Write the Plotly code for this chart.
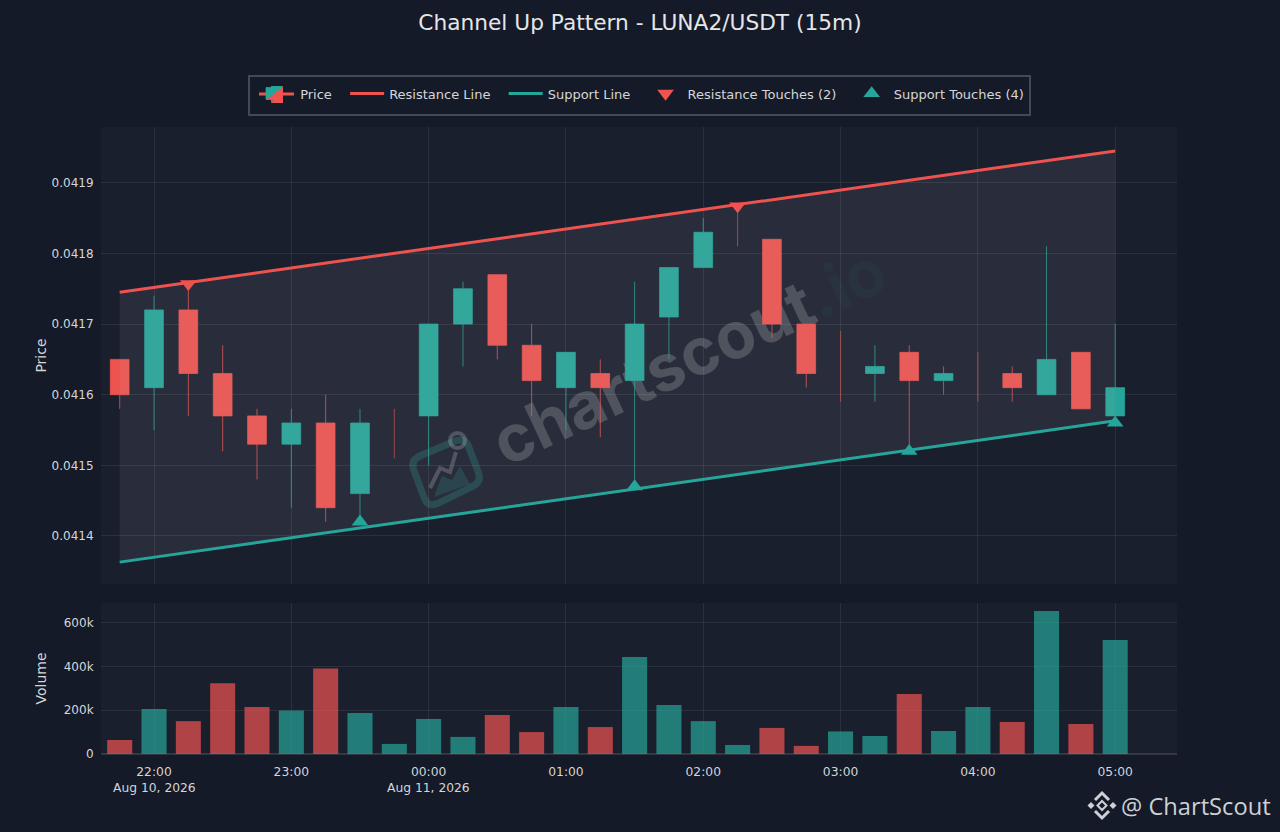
import pandas as pd
import plotly.graph_objects as go
from plotly.subplots import make_subplots

# Bougies 15m, du 10 août 21:45 au 11 août 05:00
# open/close à None : bougie sans corps, seule la mèche est visible
times = pd.date_range("2026-08-10 21:45", "2026-08-11 05:00", freq="15min")
opens = [0.04165, 0.04161, 0.04172, 0.04163, 0.04157, 0.04153, 0.04156, 0.04146, None, 0.04157,
         0.04170, 0.04177, 0.04167, 0.04161, 0.04163, 0.04162, 0.04171, 0.04178, None, 0.04182,
         0.04170, None, 0.04163, 0.04166, 0.04162, None, 0.04163, 0.04160, 0.04166, 0.04157]
highs = [0.04165, 0.04174, 0.04175, 0.04167, 0.04158, 0.04158, 0.04160, 0.04158, 0.04158, 0.04170,
         0.04176, 0.04177, 0.04170, 0.04166, 0.04165, 0.04176, 0.04178, 0.04185, 0.04187, 0.04182,
         0.04170, 0.04169, 0.04167, 0.04167, 0.04164, 0.04166, 0.04164, 0.04181, 0.04166, 0.04170]
lows = [0.04158, 0.04155, 0.04157, 0.04152, 0.04148, 0.04144, 0.04142, 0.04142, 0.04151, 0.04150,
        0.04164, 0.04165, 0.04157, 0.04155, 0.04154, 0.04147, 0.04165, 0.04178, 0.04181, 0.04168,
        0.04161, 0.04159, 0.04159, 0.04152, 0.04160, 0.04159, 0.04159, 0.04160, 0.04158, 0.04156]
closes = [0.04160, 0.04172, 0.04163, 0.04157, 0.04153, 0.04156, 0.04144, 0.04156, None, 0.04170,
          0.04175, 0.04167, 0.04162, 0.04166, 0.04161, 0.04170, 0.04178, 0.04183, None, 0.04170,
          0.04163, None, 0.04164, 0.04162, 0.04163, None, 0.04161, 0.04165, 0.04158, 0.04161]
volumes = [64000, 205000, 150000, 323000, 215000, 198000, 390000, 187000, 46000, 160000,
           78000, 178000, 100000, 215000, 123000, 443000, 224000, 150000, 41000, 119000,
           37000, 103000, 82000, 274000, 105000, 215000, 146000, 653000, 137000, 520000]

# Droites du canal
line_times = ["2026-08-10 21:45", "2026-08-11 05:00"]
resistance = [0.041745, 0.041945]
support = [0.041363, 0.041563]

# Points de contact
res_times = ["2026-08-10 22:15", "2026-08-11 02:15"]
res_prices = [0.041757, 0.041867]
sup_times = ["2026-08-10 23:30", "2026-08-11 01:30", "2026-08-11 03:30", "2026-08-11 05:00"]
sup_prices = [0.04142, 0.04147, 0.04152, 0.04156]

# Graduations de l'axe du temps
hour_ticks = ["2026-08-10 22:00", "2026-08-10 23:00", "2026-08-11 00:00", "2026-08-11 01:00",
              "2026-08-11 02:00", "2026-08-11 03:00", "2026-08-11 04:00", "2026-08-11 05:00"]
hour_labels = ["22:00", "23:00", "00:00", "01:00", "02:00", "03:00", "04:00", "05:00"]

RED = "#ef5350"
GREEN = "#26a69a"
BG = "#141a27"
PLOT_BG = "#1a1f2e"
GRID = "rgba(255,255,255,0.08)"
TEXT = "#d4d6da"
FONT = "DejaVu Sans"


# pixels de la page -> coordonnées paper
def px(x):
    return (x - 101) / 1076


def py(y):
    return (754 - y) / 627


def path(points, close=True):
    d = "M " + " L ".join(f"{px(x):.5f},{py(y):.5f}" for x, y in points)
    return d + (" Z" if close else "")


def rounded(points, t=0.2):
    # polygone aux coins arrondis
    d = ""
    n = len(points)
    for i in range(n):
        x0, y0 = points[i - 1]
        x1, y1 = points[i]
        x2, y2 = points[(i + 1) % n]
        a = (x1 + (x0 - x1) * t, y1 + (y0 - y1) * t)
        b = (x1 + (x2 - x1) * t, y1 + (y2 - y1) * t)
        d += "M " if i == 0 else "L "
        d += f"{px(a[0]):.5f},{py(a[1]):.5f} Q {px(x1):.5f},{py(y1):.5f} {px(b[0]):.5f},{py(b[1]):.5f} "
    return d + "Z"


fig = make_subplots(rows=2, cols=1, shared_xaxes=True)

fig.add_trace(go.Candlestick(
    x=times, open=opens, high=highs, low=lows, close=closes, name="\u00a0Price\u00a0\u00a0",
    increasing=dict(line=dict(color="rgba(38,166,154,0.75)", width=1), fillcolor=GREEN),
    decreasing=dict(line=dict(color="rgba(239,83,80,0.75)", width=1), fillcolor=RED),
), row=1, col=1)

# Mèches seules des bougies sans corps
wick_x = []
wick_y = []
for t, o, h, l in zip(times, opens, highs, lows):
    if o is None:
        wick_x += [t, t, None]
        wick_y += [l, h, None]
fig.add_trace(go.Scatter(
    x=wick_x, y=wick_y, mode="lines", showlegend=False,
    line=dict(color="rgba(239,83,80,0.6)", width=1),
), row=1, col=1)

# Zone du canal
fig.add_trace(go.Scatter(
    x=line_times + line_times[::-1], y=resistance + support[::-1], mode="none", showlegend=False,
    fill="toself", fillcolor="rgba(180,180,180,0.1)",
), row=1, col=1)

fig.add_trace(go.Scatter(
    x=line_times, y=resistance, mode="lines", name="Resistance Line\u00a0\u00a0",
    line=dict(color=RED, width=3),
), row=1, col=1)

fig.add_trace(go.Scatter(
    x=line_times, y=support, mode="lines", name="Support Line\u00a0\u00a0",
    line=dict(color=GREEN, width=3),
), row=1, col=1)

fig.add_trace(go.Scatter(
    x=res_times, y=res_prices, mode="markers", name="Resistance Touches (2)\u00a0\u00a0",
    marker=dict(symbol="triangle-down", size=14.5, color=RED),
), row=1, col=1)

fig.add_trace(go.Scatter(
    x=sup_times, y=sup_prices, mode="markers", name="Support Touches (4)",
    marker=dict(symbol="triangle-up", size=14.5, color=GREEN),
), row=1, col=1)

# None (sans corps) compte comme vert, comme sur le volume d'origine
bar_colors = [RED if o is not None and c < o else GREEN for o, c in zip(opens, closes)]
fig.add_trace(go.Bar(
    x=times, y=volumes, marker=dict(color=bar_colors, line=dict(width=0)),
    opacity=0.7, showlegend=False,
), row=2, col=1)

# Filigrane sous les bougies
watermark = [
    dict(type="rect", xref="paper", yref="paper", layer="below",
         x0=px(448), x1=px(928), y0=py(454), y1=py(254),
         line=dict(width=0), fillcolor="rgba(0,0,0,0)",
         label=dict(text="<b>chartscout<span style='color:rgba(38,166,154,0.25)'>.io</span></b>",
                    textangle=-25, textposition="middle center",
                    font=dict(family="Inter", size=65, weight=800, color="rgba(255,255,255,0.19)"))),
    dict(type="path", xref="paper", yref="paper", layer="below",
         path=rounded([(410, 460), (465, 437), (482, 482), (428, 508)]),
         line=dict(color="rgba(38,166,154,0.25)", width=7)),
    dict(type="circle", xref="paper", yref="paper", layer="below",
         x0=px(450), x1=px(465), y0=py(448), y1=py(433),
         line=dict(color="rgba(255,255,255,0.2)", width=4)),
    dict(type="path", xref="paper", yref="paper", layer="below",
         path=path([(430, 488), (440, 468), (450, 472), (456, 452)], close=False),
         line=dict(color="rgba(255,255,255,0.2)", width=4)),
    dict(type="path", xref="paper", yref="paper", layer="below",
         path=path([(434, 497), (442, 476), (452, 480), (460, 466), (470, 484)]),
         line=dict(width=0), fillcolor="rgba(38,166,154,0.2)"),
]

# Logo en bas à droite
logo = []
for pts in [[(1095, 800), (1102, 793), (1109, 800)], [(1095, 811), (1102, 818), (1109, 811)]]:
    logo.append(dict(type="path", xref="paper", yref="paper", path=path(pts, close=False),
                     line=dict(color="#cdd0d5", width=3)))
for cx, cy, r in [(1091, 805.5, 3.5), (1113, 805.5, 3.5)]:
    logo.append(dict(type="path", xref="paper", yref="paper",
                     path=path([(cx - r, cy), (cx, cy - r), (cx + r, cy), (cx, cy + r)]),
                     line=dict(width=0), fillcolor="#cdd0d5"))
logo.append(dict(type="path", xref="paper", yref="paper",
                 path=path([(1097.5, 805.5), (1102, 801), (1106.5, 805.5), (1102, 810)]),
                 line=dict(color="#cdd0d5", width=2), fillcolor=BG))

# Cadre de la légende et symbole épais de "Price", la légende reste transparente par-dessus
legend_box = [
    dict(type="rect", xref="paper", yref="paper", x0=px(249), x1=px(1030), y0=py(115), y1=py(76),
         line=dict(color="#444956", width=2), fillcolor=BG),
    dict(type="path", xref="paper", yref="paper", path=path([(259, 94), (294, 94)], close=False),
         line=dict(color=RED, width=3)),
    dict(type="path", xref="paper", yref="paper", path=path([(271, 86), (283, 86), (271, 103)]),
         line=dict(width=0), fillcolor=GREEN),
    dict(type="path", xref="paper", yref="paper", path=path([(283, 86), (283, 103), (271, 103)]),
         line=dict(width=0), fillcolor=RED),
]

fig.update_layout(
    width=1280,
    height=832,
    autosize=False,
    margin=dict(l=101, r=103, t=127, b=78),
    paper_bgcolor=BG,
    plot_bgcolor=PLOT_BG,
    font=dict(family=FONT, size=12, color=TEXT),
    title=dict(text="Channel Up Pattern - LUNA2/USDT (15m)", x=0.5, xanchor="center",
               y=0.973, yanchor="middle", font=dict(family=FONT, size=21.7, color="#e4e6e9")),
    legend=dict(orientation="h", traceorder="normal", x=px(250), xanchor="left", y=py(76.5), yanchor="top",
                bgcolor="rgba(0,0,0,0)", bordercolor="rgba(0,0,0,0)", borderwidth=2, itemwidth=34,
                font=dict(size=13, color=TEXT)),
    bargap=0.27,
    boxgap=0.22,
    shapes=watermark + logo + legend_box,
    annotations=[
        dict(text="@ ChartScout", xref="paper", yref="paper", x=px(1273), y=py(806),
             xanchor="right", yanchor="middle", showarrow=False,
             font=dict(family="Open Sans", size=23.7, color="#cdd0d5")),
        dict(text="Aug 10, 2026", xref="x2", yref="paper", x=hour_ticks[0], y=py(788),
             xanchor="center", yanchor="middle", showarrow=False, font=dict(size=12.3, color=TEXT)),
        dict(text="Aug 11, 2026", xref="x2", yref="paper", x=hour_ticks[2], y=py(788),
             xanchor="center", yanchor="middle", showarrow=False, font=dict(size=12.3, color=TEXT)),
    ],
)

fig.update_xaxes(
    range=["2026-08-10 21:36:50", "2026-08-11 05:27:00"],
    rangeslider_visible=False,
    tickmode="array",
    tickvals=hour_ticks,
    ticktext=hour_labels,
    ticks="outside",
    ticklen=6,
    tickcolor="rgba(0,0,0,0)",
    gridcolor=GRID,
    showline=False,
    tickfont=dict(size=12.3, color=TEXT),
)
fig.update_yaxes(gridcolor=GRID, zeroline=False, showline=False, ticks="outside", ticklen=4,
                 tickcolor="rgba(0,0,0,0)", tickfont=dict(size=12, color=TEXT))
fig.update_yaxes(domain=[0.2711, 1], range=[0.041332, 0.041979], dtick=0.0001, tickformat=".4f",
                 title=dict(text="Price", font=dict(size=14), standoff=1), row=1, col=1)
fig.update_yaxes(domain=[0, 0.2408], range=[0, 689000], dtick=200000, tickformat="~s",
                 zeroline=True, zerolinecolor="rgba(255,255,255,0.12)",
                 title=dict(text="Volume", font=dict(size=14), standoff=13), row=2, col=1)

# pas de marge autour du graphique dans la page, pas de barre d'outils
fig.write_html("out.html", config={"displayModeBar": False},
               post_script="document.body.style.margin='0';document.body.style.background='#141a27';")
